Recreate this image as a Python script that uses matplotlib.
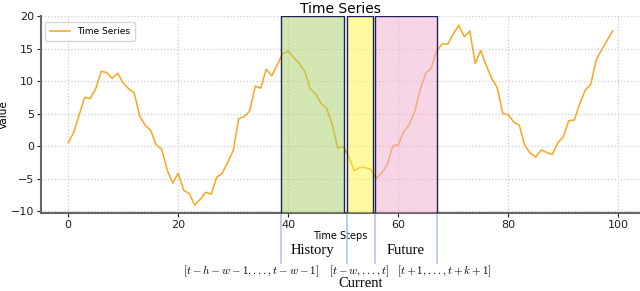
#/usr/bin/env python3

import matplotlib
matplotlib.use('Agg')
import matplotlib.pyplot as plt
from matplotlib.colors import to_rgba
import numpy as np

#Time series values, one per step
steps = list(range(100))
values = [0.5, 2.1, 4.8, 7.5, 7.3, 8.8, 11.5, 11.3, 10.4, 11.2,
	9.7, 8.8, 8.2, 4.6, 3.2, 2.4, 0.2, -0.5, -3.7, -5.7,
	-4.2, -6.8, -7.3, -9.1, -8.2, -7.1, -7.4, -4.8, -4.2, -2.5,
	-0.7, 4.2, 4.5, 5.4, 9.2, 8.9, 11.8, 10.8, 12.5, 14.2,
	14.6, 13.6, 12.7, 11.5, 8.8, 8.0, 6.5, 5.8, 3.3, -0.3,
	-0.1, -1.6, -3.8, -3.3, -3.3, -3.6, -5.0, -4.1, -2.9, 0.0,
	0.2, 2.2, 3.3, 5.3, 8.7, 11.2, 12.0, 14.7, 15.7, 15.7,
	17.2, 18.6, 16.8, 17.7, 12.7, 14.7, 12.4, 10.4, 9.0, 5.0,
	4.8, 3.7, 3.2, 0.1, -1.1, -1.7, -0.6, -1.0, -1.3, 0.5,
	1.4, 3.9, 4.0, 6.5, 8.6, 9.5, 13.3, 14.8, 16.3, 17.7]

#Window boundaries (in time steps)
win_names = ['History', 'Current', 'Future']
win_start = [38.6, 50.7, 55.8]
win_end = [50.2, 55.5, 67.0]
win_ranges = [r'$[t-h-w-1,...,t-w-1]$', r'$[t-w,...,t]$', r'$[t+1,...,t+k+1]$']
win_colors = ['#a9d169', '#fff541', '#f1add1']

def main():
	plt.rcParams['mathtext.fontset'] = 'cm'
	fig = plt.figure(figsize=(6.4, 2.91), dpi=100)
	ax = fig.add_axes([0.064, 0.268, 0.936, 0.677])

	#Plot the series
	ax.plot(steps, values, color='#f7a71e', lw=1.1, label='Time Series', zorder=2)

	#Shaded windows on top of the series
	for x0, x1, c in zip(win_start, win_end, win_colors):
		ax.axvspan(x0, x1, ymin=0, ymax=1, facecolor=to_rgba(c, 0.5),
			edgecolor='#1c2356', lw=1.0, zorder=3)

	#Axis configuration
	ax.set_xlim(-4.95, 103.95)
	ax.set_ylim(-10.3, 20)
	ax.set_xticks(range(0, 101, 20))
	ax.set_yticks(range(-10, 21, 5))
	ax.grid(True, ls=':', color='#cccccc', lw=0.9)
	ax.set_axisbelow(True)
	for s in ['top', 'right']:
		ax.spines[s].set_visible(False)
	for s in ['left', 'bottom']:
		ax.spines[s].set_color('#666666')
		ax.spines[s].set_linewidth(1.5)
	ax.tick_params(labelsize=8, colors='#222222', length=3, pad=2)
	ax.set_xlabel('Time Steps', fontsize=7, labelpad=1)
	ax.set_ylabel('Value', fontsize=7.5, labelpad=1)
	ax.set_title('Time Series', fontsize=10, pad=2)
	ax.legend(loc='upper left', fontsize=6.5, handlelength=2.2, borderpad=0.5,
		bbox_to_anchor=(0.0, 0.99))

	#Boundary markers and window labels below the axis
	trans = ax.get_xaxis_transform()
	for x in [win_start[0], win_start[1], win_start[2], win_end[2]]:
		ax.axvline(x, ymin=-0.254, ymax=0, color='#b4c6e4', lw=1.2, clip_on=False)
	serif = ['Liberation Serif', 'DejaVu Serif']
	label_y = [-0.19, -0.36, -0.19]
	range_x = [33.3, 52.9, 68.4]
	for i in range(3):
		mid = (win_start[i] + win_end[i]) / 2
		ax.text(mid, label_y[i], win_names[i], transform=trans, ha='center',
			va='center', fontsize=10.5, family=serif)
		ax.text(range_x[i], -0.295, win_ranges[i], transform=trans, ha='center',
			va='center', fontsize=8)

	fig.savefig('out.png', dpi=100)

if __name__ == '__main__':
	main()
